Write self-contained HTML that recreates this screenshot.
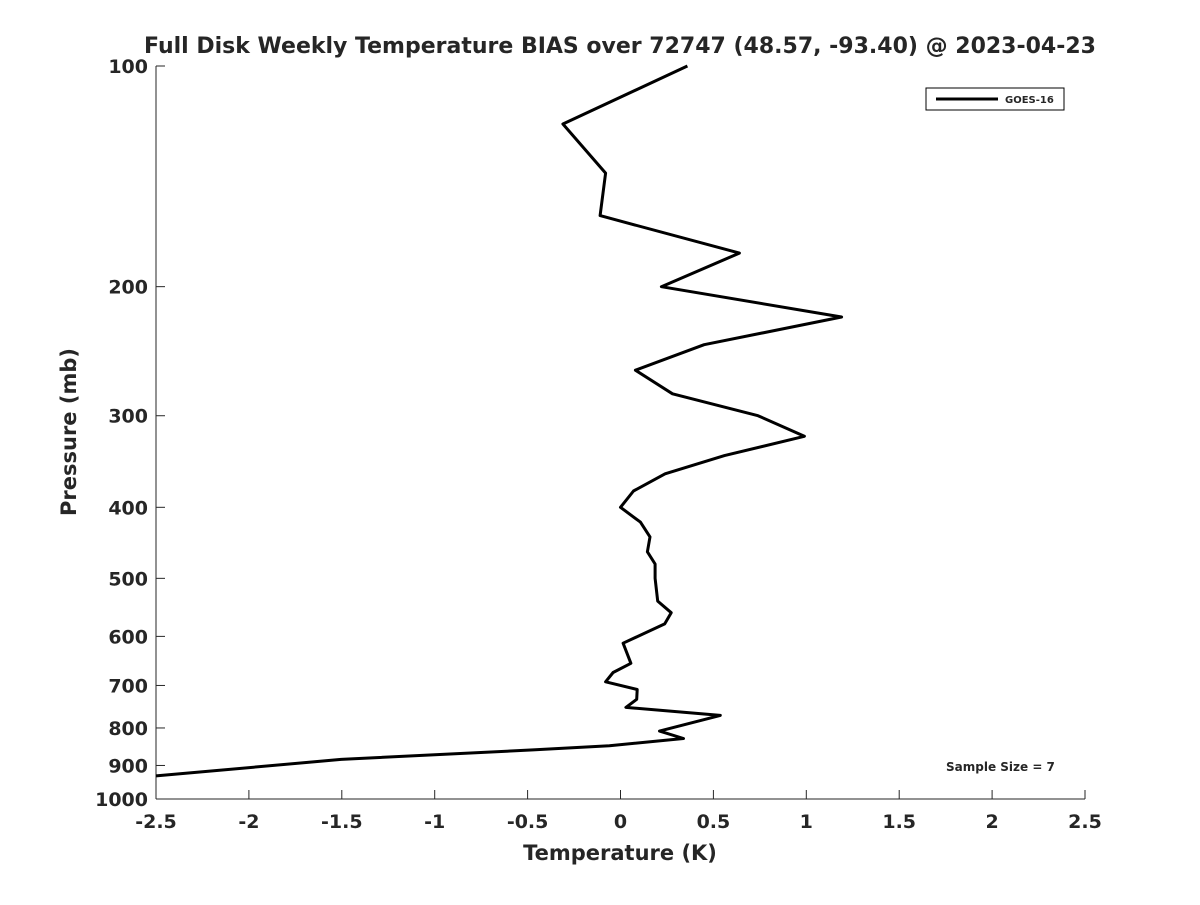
<!DOCTYPE html>
<html><head><meta charset="utf-8"><style>
body{margin:0;background:#fff;font-family:"Liberation Sans",sans-serif}
svg text{font-family:"DejaVu Sans","Liberation Sans",sans-serif;font-weight:bold;fill:#262626}
</style></head><body>
<svg id="chart" width="1200" height="900" xmlns="http://www.w3.org/2000/svg">
<rect width="1200" height="900" fill="#fff"/>
<text x="620" y="53" text-anchor="middle" font-size="22" fill="#000">Full Disk Weekly Temperature BIAS over 72747 (48.57, -93.40) @ 2023-04-23</text>
<g id="axes"></g>
<path id="line" fill="none" stroke="#000" stroke-width="3" stroke-linejoin="round"/>
<g>
<rect x="926" y="88" width="138" height="22" fill="#fff" stroke="#000" stroke-width="1"/>
<line x1="936" y1="99" x2="998" y2="99" stroke="#000" stroke-width="3"/>
<text x="1005" y="103" font-size="10" fill="#000">GOES-16</text>
</g>
<text x="946" y="771" font-size="12" fill="#000">Sample Size = 7</text>
<text x="620" y="860" text-anchor="middle" font-size="21">Temperature (K)</text>
<text transform="translate(76,432) rotate(-90)" text-anchor="middle" font-size="21">Pressure (mb)</text>
</svg>
<script>
const temps=[0.36,-0.31,-0.08,-0.11,0.64,0.22,1.19,0.45,0.08,0.28,0.74,0.99,0.56,0.24,0.07,0.0,0.107,0.159,0.145,0.186,0.186,0.2,0.273,0.238,0.014,0.056,-0.04,-0.08,0.09,0.087,0.029,0.537,0.21,0.339,-0.06,-0.471,-1.504,-2.5];
const pressures=[100,120,140,160,180,200,220,240,260,280,300,320,340,360,380,400,419,439,460,478,500,537,557,577,613,653,672,692,709,731,750,769,808,827,846,857,883,930];
const xTicks=[-2.5,-2,-1.5,-1,-0.5,0,0.5,1,1.5,2,2.5];
const yTicks=[100,200,300,400,500,600,700,800,900,1000];
const L=156,R=1085,T=66,B=799;
function xs(v){return L+(v+2.5)/5*(R-L);}
function ys(p){return T+(Math.log10(p)-2)*(B-T);}
const NS="http://www.w3.org/2000/svg";
const ax=document.getElementById('axes');
function mk(t,a){const e=document.createElementNS(NS,t);for(const k in a)e.setAttribute(k,a[k]);return e;}
const xl=mk('line',{x1:L,y1:B,x2:R,y2:B,stroke:'#262626','stroke-width':1});


ax.appendChild(xl);
const yl=mk('line',{x1:L,y1:T,x2:L,y2:B,stroke:'#262626','stroke-width':1});


ax.appendChild(yl);
xTicks.forEach(v=>{const x=xs(v);
ax.appendChild(mk('line',{x1:x,y1:B,x2:x,y2:B-9,stroke:'#262626'}));
const t=mk('text',{x:x,y:B+29,'text-anchor':'middle','font-size':19});t.textContent=String(v);


ax.appendChild(t);});
yTicks.forEach(v=>{const y=ys(v);
ax.appendChild(mk('line',{x1:L,y1:y,x2:L+9,y2:y,stroke:'#262626'}));
const t=mk('text',{x:L-8,y:y+7,'text-anchor':'end','font-size':19});t.textContent=String(v);


ax.appendChild(t);});
let d='';
temps.forEach((v,i)=>{d+=(i?'L':'M')+xs(v).toFixed(1)+','+ys(pressures[i]).toFixed(1);});
document.getElementById('line').setAttribute('d',d);
</script>
</body></html>
